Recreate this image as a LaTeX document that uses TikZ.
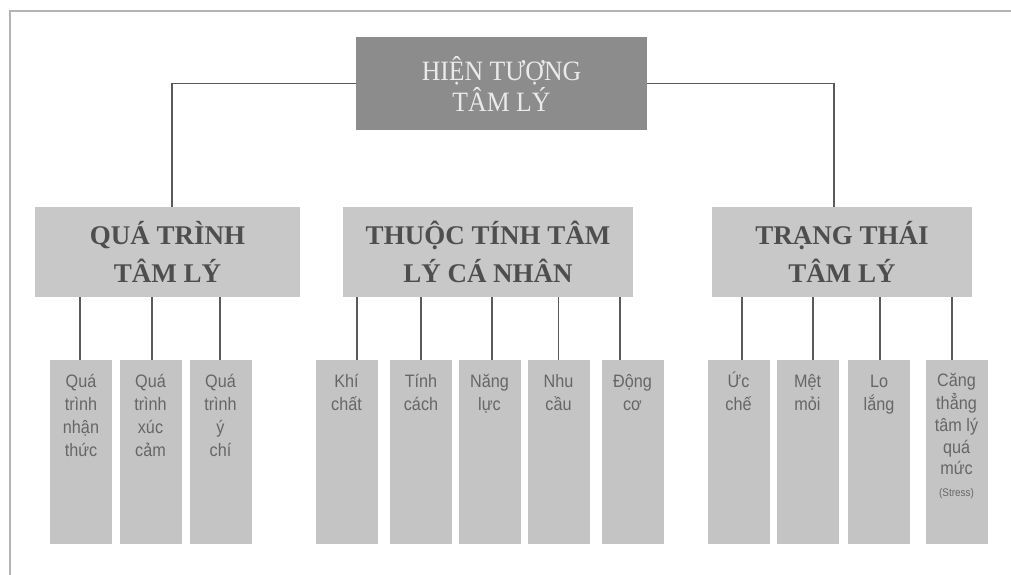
\documentclass[tikz,border=0pt]{standalone}
\usepackage{fontspec}
\setmainfont{Liberation Serif}
\newfontfamily\leafsans[FakeStretch=0.9]{Liberation Sans}
\newfontfamily\topserif[FakeStretch=0.92]{Liberation Serif}
\usetikzlibrary{backgrounds}
\definecolor{linec}{HTML}{5A5A5A}
\definecolor{framec}{HTML}{B4B4B4}
\definecolor{topfill}{HTML}{8C8C8C}
\definecolor{toptext}{HTML}{EAEAEA}
\definecolor{midfill}{HTML}{C8C8C8}
\definecolor{midtext}{HTML}{4E4E4E}
\definecolor{leaffill}{HTML}{C4C4C4}
\definecolor{leaftextc}{HTML}{666666}
\begin{document}
\begin{tikzpicture}[x=1pt,y=-1pt,
  conn/.style={draw=linec, line width=1.4pt},
  framel/.style={draw=framec, line width=1.5pt},
  topbox/.style={fill=topfill, minimum width=291pt, minimum height=93pt, inner sep=0pt, align=center, text=toptext, font=\topserif\fontsize{28}{31}\selectfont},
  midbox/.style={fill=midfill, minimum height=90pt, inner sep=0pt, align=center, text=midtext, font=\fontsize{27}{38}\selectfont\bfseries},
  leafbox/.style={fill=leaffill, minimum width=62pt, minimum height=184pt, inner sep=0pt},
  leaftext/.style={anchor=north, inner sep=0pt, align=center, text=leaftextc, font=\leafsans\fontsize{18}{23}\selectfont},
]
\useasboundingbox (0,0) rectangle (1011,575);
\coordinate (fb) at (10,575);
\coordinate (fc) at (10,11);
\coordinate (fr) at (1011,11);
\draw[framel] (fb) -- (fc) -- (fr);

% top
\node[topbox] (top) at (501.5,83.5) {HIỆN TƯỢNG\\TÂM LÝ};

% level 2
\node[midbox, minimum width=265pt] (q1) at (167.5,252) {QUÁ TRÌNH\\TÂM LÝ};
\node[midbox, minimum width=290pt] (q2) at (488,252) {THUỘC TÍNH TÂM\\LÝ CÁ NHÂN};
\node[midbox, minimum width=260pt] (q3) at (842,252) {TRẠNG THÁI\\TÂM LÝ};

% level 3 boxes
\node[leafbox] (a1) at (81,452) {};
\node[leafbox] (a2) at (150.5,452) {};
\node[leafbox] (a3) at (220.5,452) {};
\node[leafbox] (b1) at (346.5,452) {};
\node[leafbox] (b2) at (421,452) {};
\node[leafbox] (b3) at (489.5,452) {};
\node[leafbox] (b4) at (558.5,452) {};
\node[leafbox] (b5) at (632.5,452) {};
\node[leafbox] (c1) at (738.5,452) {};
\node[leafbox] (c2) at (807.5,452) {};
\node[leafbox] (c3) at (879,452) {};
\node[leafbox] (c4) at (956.5,452) {};

% level 3 texts
\node[leaftext] (a1t) at ([yshift=-11pt]a1.north) {\strut Quá\\trình\\nhận\\thức};
\node[leaftext] (a2t) at ([yshift=-11pt]a2.north) {\strut Quá\\trình\\xúc\\cảm};
\node[leaftext] (a3t) at ([yshift=-11pt]a3.north) {\strut Quá\\trình\\ý\\chí};
\node[leaftext] (b1t) at ([yshift=-11pt]b1.north) {\strut Khí\\chất};
\node[leaftext] (b2t) at ([yshift=-11pt]b2.north) {\strut Tính\\cách};
\node[leaftext] (b3t) at ([yshift=-11pt]b3.north) {\strut Năng\\lực};
\node[leaftext] (b4t) at ([yshift=-11pt]b4.north) {\strut Nhu\\cầu};
\node[leaftext] (b5t) at ([yshift=-11pt]b5.north) {\strut Động\\cơ};
\node[leaftext] (c1t) at ([yshift=-11pt]c1.north) {\strut Ức\\chế};
\node[leaftext] (c2t) at ([yshift=-11pt]c2.north) {\strut Mệt\\mỏi};
\node[leaftext] (c3t) at ([yshift=-11pt]c3.north) {\strut Lo\\lắng};
\node[leaftext, font=\leafsans\fontsize{18}{21.7}\selectfont] (c4t) at ([yshift=-11pt]c4.north) {\strut Căng\\thẳng\\tâm lý\\quá\\mức\\{\fontsize{11}{13}\selectfont(Stress)}};

\begin{scope}[on background layer]
\draw[conn] ([xshift=4.5pt]q1.north) |- (top.center) -| ([xshift=-8pt]q3.north);
\draw[conn] ([xshift=-1pt]a1.north) -- ([xshift=-1pt]a1.north |- q1.south);
\draw[conn] ([xshift=1.5pt]a2.north) -- ([xshift=1.5pt]a2.north |- q1.south);
\draw[conn] ([xshift=-0.5pt]a3.north) -- ([xshift=-0.5pt]a3.north |- q1.south);
\draw[conn] ([xshift=10.5pt]b1.north) -- ([xshift=10.5pt]b1.north |- q2.south);
\draw[conn] (b2.north) -- (b2.north |- q2.south);
\draw[conn] ([xshift=2.5pt]b3.north) -- ([xshift=2.5pt]b3.north |- q2.south);
\draw[conn] (b4.north) -- (b4.north |- q2.south);
\draw[conn] ([xshift=-12.5pt]b5.north) -- ([xshift=-12.5pt]b5.north |- q2.south);
\draw[conn] ([xshift=3.5pt]c1.north) -- ([xshift=3.5pt]c1.north |- q3.south);
\draw[conn] ([xshift=5.5pt]c2.north) -- ([xshift=5.5pt]c2.north |- q3.south);
\draw[conn] ([xshift=1pt]c3.north) -- ([xshift=1pt]c3.north |- q3.south);
\draw[conn] ([xshift=-4.5pt]c4.north) -- ([xshift=-4.5pt]c4.north |- q3.south);
\end{scope}
\end{tikzpicture}
\end{document}
